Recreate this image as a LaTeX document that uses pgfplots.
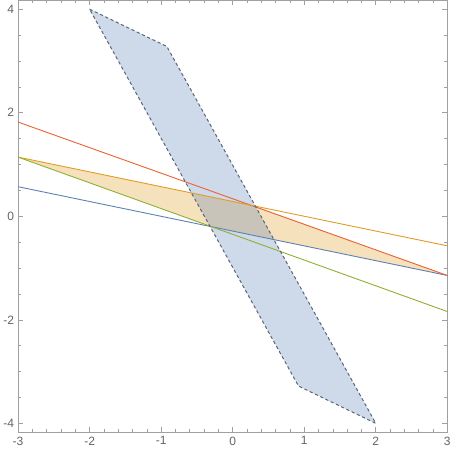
\documentclass[border=0pt]{standalone}
\usepackage{pgfplots}
\pgfplotsset{compat=1.18}
\usepackage{fontspec}
\setmainfont{Liberation Sans}
\definecolor{mblue}{HTML}{5E81B5}
\definecolor{morange}{HTML}{E19C24}
\definecolor{mgreen}{HTML}{8FB032}
\definecolor{mred}{HTML}{EB6235}
\definecolor{edge}{HTML}{5A6478}
\definecolor{framec}{HTML}{A0A0A0}
\definecolor{labc}{HTML}{646464}
\begin{document}
\begin{tikzpicture}
\begin{axis}[
  scale only axis,
  width=428.5pt, height=431pt,
  xmin=-3, xmax=3, ymin=-4.17, ymax=4.17,
  xtick={-3,-2,...,3}, ytick={-4,-2,...,4},
  minor x tick num=4, minor y tick num=3,
  tick align=inside,
  major tick length=5pt, minor tick length=3pt,
  axis line style={framec, line width=0.8pt},
  every tick/.style={framec, line width=0.6pt},
  tick label style={labc, font=\fontsize{12}{14}\selectfont},
  /pgf/number format/assume math mode=true,
  xticklabel style={yshift=-1pt},
  yticklabel style={xshift=-0.5pt},
  clip=true,
]
% orange region between lines
\addplot[fill=morange, fill opacity=0.3, draw=none] coordinates {
  (-3,1.143) (0.32,0.195) (3,-1.143) (-0.30,-0.20) } -- cycle;
% parallelogram
\addplot[fill=mblue, fill opacity=0.3, draw=none] coordinates {
  (-2,4) (-0.92,3.28) (2,-4) (0.92,-3.28) } -- cycle;
% lines
\addplot[mblue, line width=0.9pt] coordinates {(-3,0.571) (3,-1.143)};
\addplot[mred, line width=0.9pt] coordinates {(-3,1.82) (3,-1.143)};
\addplot[morange, line width=0.9pt] coordinates {(-3,1.143) (3,-0.571)};
\addplot[mgreen, line width=0.9pt] coordinates {(-3,1.143) (3,-1.84)};
% dashed boundary
\addplot[edge, line width=1pt, dash pattern=on 3.2pt off 2.6pt] coordinates {
  (-2,4) (-0.92,3.28) (2,-4) (0.92,-3.28) (-2,4)};
\end{axis}
\end{tikzpicture}
\end{document}
